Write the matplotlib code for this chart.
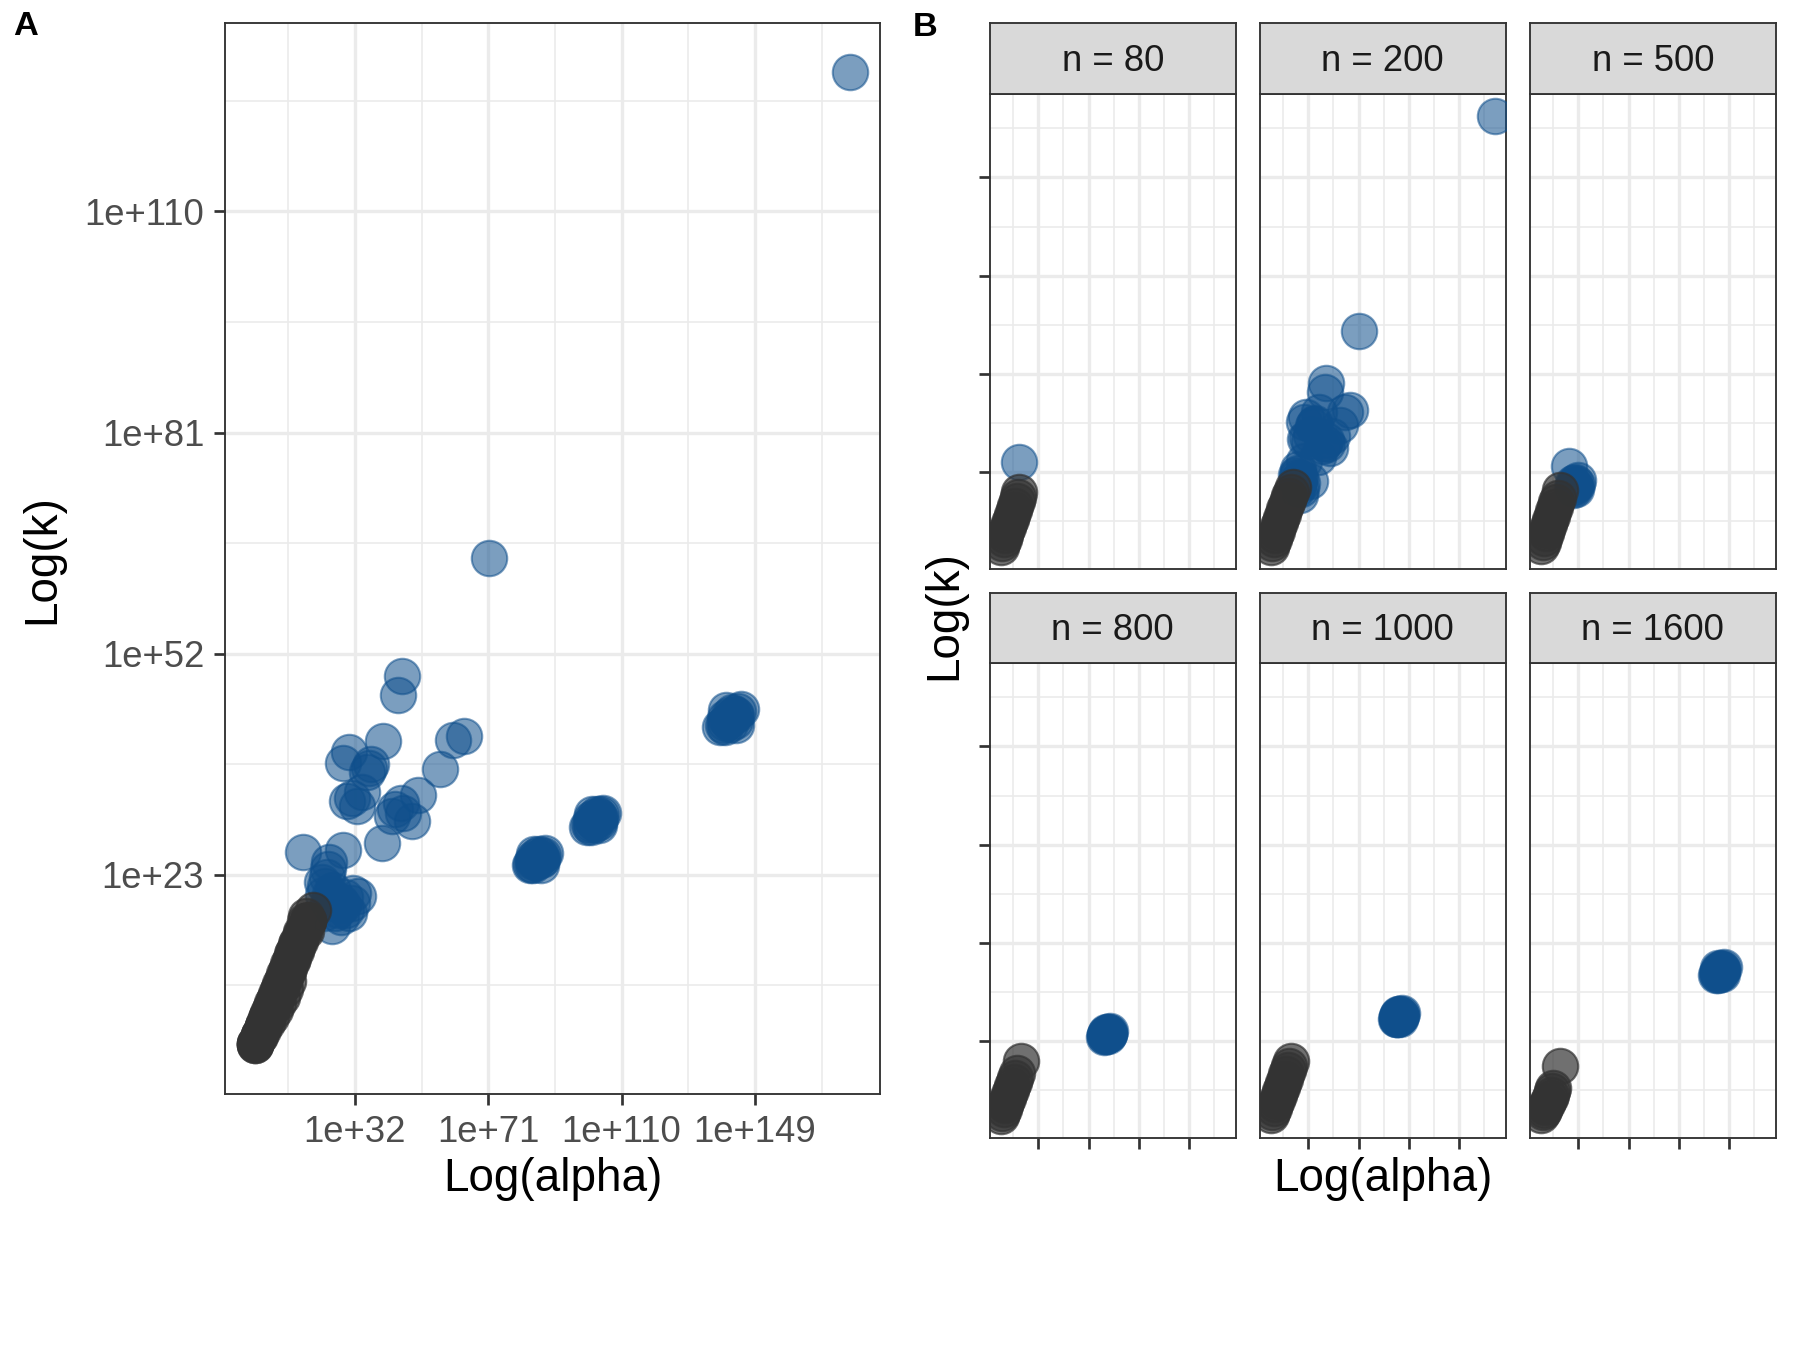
import matplotlib
matplotlib.use('Agg')
import matplotlib.pyplot as plt
import numpy as np

plt.rcParams['font.family'] = ['Liberation Sans', 'DejaVu Sans']

# facets
n_levels = [80, 200, 500, 800, 1000, 1600]

# axis breaks (log10 values)
x_breaks = [32, 71, 110, 149]
y_breaks = [23, 52, 81, 110]

# grey points per facet: log10(alpha), log10(k)
gray_x = [
    [2.8, 3.9, 5.0, 6.1, 7.2, 8.3, 9.5, 10.6, 11.8, 12.9, 14.0, 15.1, 16.2, 17.3],
    [2.7, 3.8, 5.0, 6.2, 7.4, 8.6, 9.8, 11.0, 12.2, 13.4, 14.6, 15.8, 17.0, 18.4, 19.8],
    [2.9, 4.1, 5.3, 6.5, 7.7, 8.9, 10.1, 11.3, 12.5, 13.7, 14.9, 16.1, 17.7],
    [2.7, 3.8, 4.9, 6.0, 7.1, 8.2, 9.3, 10.4, 11.6, 12.8, 14.0, 15.1, 18.2],
    [2.8, 4.0, 5.2, 6.4, 7.6, 8.8, 10.0, 11.2, 12.4, 13.6, 14.8, 16.0, 17.1, 18.2],
    [3.2, 4.2, 5.2, 6.3, 7.4, 8.5, 9.6, 10.7, 11.6, 12.5, 17.7],
]
gray_y = [
    [0.8, 1.9, 3.0, 4.2, 5.4, 6.6, 7.8, 9.0, 10.3, 11.6, 12.9, 14.2, 15.5, 16.9],
    [0.7, 1.9, 3.1, 4.3, 5.6, 6.8, 8.1, 9.3, 10.6, 11.9, 13.2, 14.5, 15.8, 17.1, 18.4],
    [0.9, 2.2, 3.5, 4.8, 6.1, 7.4, 8.7, 10.0, 11.3, 12.6, 13.9, 15.2, 17.6],
    [0.6, 1.7, 2.8, 3.9, 5.0, 6.1, 7.2, 8.3, 9.5, 10.8, 12.1, 13.5, 16.9],
    [0.9, 2.0, 3.2, 4.4, 5.6, 6.8, 8.0, 9.2, 10.4, 11.7, 13.0, 14.3, 15.6, 16.9],
    [1.0, 1.8, 2.6, 3.5, 4.3, 5.2, 6.1, 7.0, 8.0, 9.1, 15.6],
]

# blue points per facet
blue_x = [
    [16.9],
    [45.9, 44.7, 40.3, 30.2, 28.6, 36.1, 36.8, 35.5, 34.0, 29.6, 32.5, 31.0, 28.6, 39.8,
     42.7, 43.8, 46.1, 48.6, 50.5, 45.6, 56.9, 60.8, 64.0, 71.3, 176.9,
     23.7, 23.2, 24.2, 24.2, 22.8, 25.5, 25.2, 26.2, 23.0, 24.6, 26.8, 22.4, 33.0],
    [24.5, 27.5, 28.5, 29.4, 30.3, 28.0, 29.0, 31.0, 27.0, 31.5],
    [83.1, 83.6, 84.2, 84.7, 85.3, 85.8, 86.4, 86.9, 87.5, 84.0, 84.9, 85.8, 86.6, 84.1, 85.0,
     86.5, 84.3, 86.3],
    [99.9, 100.5, 101.1, 101.7, 102.3, 102.9, 103.5, 104.1, 104.7, 101.0, 101.9, 102.8, 103.7,
     101.2, 102.1, 103.5, 101.3, 103.5],
    [138.8, 139.6, 140.3, 141.1, 141.8, 142.5, 143.3, 144.0, 144.8, 140.2, 141.3, 142.4, 143.5,
     140.4, 141.6, 143.2, 140.5, 143.5],
]
blue_y = [
    [25.9],
    [49.1, 46.5, 40.5, 39.1, 37.6, 37.0, 37.5, 36.5, 33.9, 32.6, 32.0, 33.0, 26.2, 27.2,
     30.7, 31.6, 31.1, 30.0, 33.5, 32.4, 36.8, 40.7, 41.2, 64.5, 128.3,
     22.7, 21.5, 23.7, 19.3, 20.3, 21.0, 16.2, 18.0, 18.0, 20.4, 19.6, 22.0, 20.2],
    [24.6, 19.5, 19.0, 18.4, 18.0, 17.5, 20.0, 19.3, 18.3, 20.6],
    [24.2, 24.4, 24.6, 24.8, 25.0, 25.2, 25.4, 25.6, 25.8, 25.1, 25.4, 25.7, 25.1, 24.3, 24.6,
     24.9, 25.7, 24.3],
    [29.3, 29.5, 29.7, 30.0, 30.2, 30.4, 30.7, 30.9, 31.1, 30.3, 30.6, 30.9, 30.4, 29.3, 29.6,
     29.9, 31.0, 29.5],
    [42.3, 42.6, 42.9, 43.2, 43.5, 43.8, 44.1, 44.4, 44.7, 43.5, 43.9, 44.3, 44.0, 42.4, 42.8,
     43.1, 44.6, 42.6],
]

GRAY = '#333333'
BLUE = '#0F4F8C'
PT_SIZE = 290

W, H = 1800, 1350


def frac(l, t, r, b):
    return [l / W, 1 - b / H, (r - l) / W, (b - t) / H]


all_x = np.concatenate([np.concatenate(gray_x), np.concatenate(blue_x)])
all_y = np.concatenate([np.concatenate(gray_y), np.concatenate(blue_y)])
xr = all_x.max() - all_x.min()
yr = all_y.max() - all_y.min()
xlim = (all_x.min() - 0.05 * xr, all_x.max() + 0.05 * xr)
ylim = (all_y.min() - 0.05 * yr, all_y.max() + 0.05 * yr)

x_step = x_breaks[1] - x_breaks[0]
y_step = y_breaks[1] - y_breaks[0]
x_minor = [x_breaks[0] - x_step / 2] + [b + x_step / 2 for b in x_breaks]
y_minor = [y_breaks[0] - y_step / 2] + [b + y_step / 2 for b in y_breaks]


def style(ax):
    ax.set_xlim(xlim)
    ax.set_ylim(ylim)
    ax.set_xticks(x_breaks)
    ax.set_yticks(y_breaks)
    ax.set_xticks(x_minor, minor=True)
    ax.set_yticks(y_minor, minor=True)
    ax.grid(which='major', color='#EBEBEB', lw=1.6)
    ax.grid(which='minor', color='#EBEBEB', lw=0.8)
    ax.set_axisbelow(True)
    for s in ax.spines.values():
        s.set_color('#333333')
        s.set_linewidth(0.9)
    ax.tick_params(which='major', length=5.5, width=1.3, color='#333333',
                   labelsize=17.5, labelcolor='#4D4D4D', pad=4.5)
    ax.tick_params(which='minor', length=0)


def draw_points(ax, gx, gy, bx, by):
    ax.scatter(bx, by, s=PT_SIZE, color=BLUE, alpha=0.55, linewidths=1.0, zorder=3)
    ax.scatter(gx, gy, s=PT_SIZE, color=GRAY, alpha=0.7, linewidths=1.0, zorder=4)


fig = plt.figure(figsize=(12, 9), dpi=150)

# panel A
axA = fig.add_axes(frac(225, 23.3, 880, 1094))
style(axA)
draw_points(axA, np.concatenate(gray_x), np.concatenate(gray_y),
            np.concatenate(blue_x), np.concatenate(blue_y))
axA.set_xticklabels(['1e+{}'.format(b) for b in x_breaks])
axA.set_yticklabels(['1e+{}'.format(b) for b in y_breaks])

fig.text(552.5 / W, 1 - 1179 / H, 'Log(alpha)', fontsize=22, ha='center', va='center')
fig.text(42.5 / W, 1 - 559 / H, 'Log(k)', fontsize=22, ha='center', va='center', rotation=90)

# panel B
col_left = [989.5, 1259.5, 1529.5]
panel_w = 246.5
row_top = [94, 663]
panel_h = 475
strip_top = [23.3, 593]

for i, n in enumerate(n_levels):
    r, c = divmod(i, 3)
    l = col_left[c]
    t = row_top[r]
    ax = fig.add_axes(frac(l, t, l + panel_w, t + panel_h))
    style(ax)
    draw_points(ax, gray_x[i], gray_y[i], blue_x[i], blue_y[i])
    ax.set_xticklabels([])
    ax.set_yticklabels([])
    ax.tick_params(which='major', left=(c == 0), bottom=(r == 1))

    sax = fig.add_axes(frac(l, strip_top[r], l + panel_w, t))
    sax.set_facecolor('#D9D9D9')
    sax.set_xticks([])
    sax.set_yticks([])
    for s in sax.spines.values():
        s.set_color('#333333')
        s.set_linewidth(0.9)
    sax.text(0.5, 0.46, 'n = {}'.format(n), fontsize=17.5, color='#1A1A1A',
             ha='center', va='center', transform=sax.transAxes)

fig.text(1382.75 / W, 1 - 1179 / H, 'Log(alpha)', fontsize=22, ha='center', va='center')
fig.text(944 / W, 1 - 615 / H, 'Log(k)', fontsize=22, ha='center', va='center', rotation=90)

fig.text(13 / W, 1 - 11 / H, 'A', fontsize=16.5, fontweight='bold', ha='left', va='top')
fig.text(913 / W, 1 - 12 / H, 'B', fontsize=16.5, fontweight='bold', ha='left', va='top')

fig.savefig('out.png', dpi=150, facecolor='white')
